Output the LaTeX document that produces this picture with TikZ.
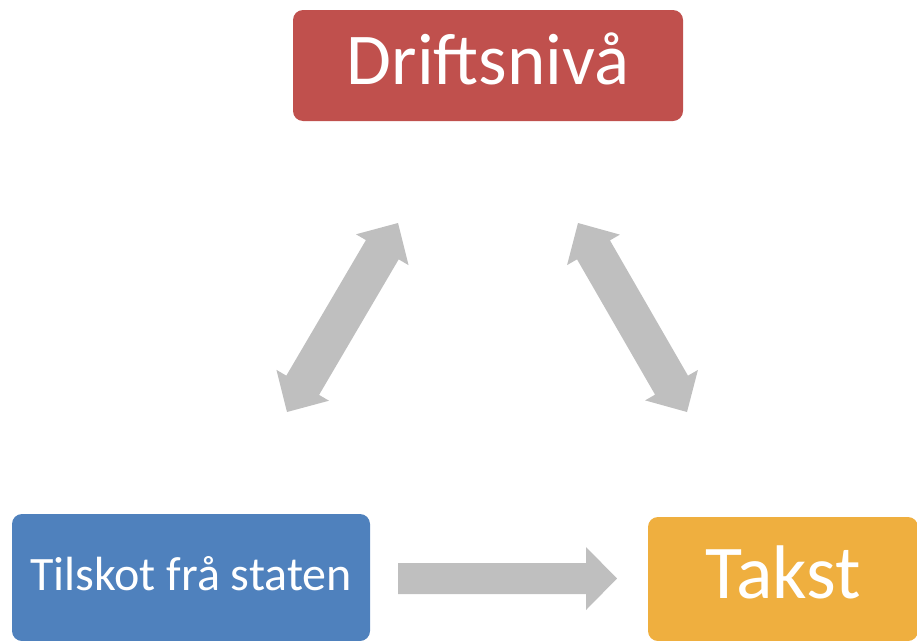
\documentclass[tikz,border=0pt]{standalone}
\usepackage{fontspec}
\setmainfont{Carlito}
\usetikzlibrary{calc}
\definecolor{boxred}{HTML}{C0504D}
\definecolor{boxblue}{HTML}{4F81BD}
\definecolor{boxorange}{HTML}{EFAF3F}
\definecolor{arrowgray}{HTML}{BFBFBF}
% double block arrow between two named coordinates
% #1,#2 tips, #3 shaft half width, #4 head half width, #5 head length
\newcommand\dblblockarrow[5]{%
  \fill[arrowgray] (#1)
    -- ($(#1)!#5!(#2)!#4!90:(#2)$) -- ($(#1)!#5!(#2)!#3!90:(#2)$)
    -- ($(#2)!#5!(#1)!#3!-90:(#1)$) -- ($(#2)!#5!(#1)!#4!-90:(#1)$)
    -- (#2)
    -- ($(#2)!#5!(#1)!#4!90:(#1)$) -- ($(#2)!#5!(#1)!#3!90:(#1)$)
    -- ($(#1)!#5!(#2)!#3!-90:(#2)$) -- ($(#1)!#5!(#2)!#4!-90:(#2)$)
    -- cycle;}
% single block arrow from #1 (tail) to #2 (tip)
\newcommand\sglblockarrow[5]{%
  \fill[arrowgray] ($(#1)!#3!90:(#2)$)
    -- ($(#2)!#5!(#1)!#3!-90:(#1)$) -- ($(#2)!#5!(#1)!#4!-90:(#1)$)
    -- (#2)
    -- ($(#2)!#5!(#1)!#4!90:(#1)$) -- ($(#2)!#5!(#1)!#3!90:(#1)$)
    -- ($(#1)!#3!-90:(#2)$) -- cycle;}
\begin{document}
\begin{tikzpicture}[x=1pt,y=-1pt,
  box/.style={draw=none, rounded corners=10pt, text=white, inner sep=0pt, anchor=center}]
\useasboundingbox (0,0) rectangle (917,640);
\node[box, fill=boxred, minimum width=390pt, minimum height=111pt,
      text height=46pt, text depth=8pt,
      font=\fontsize{73}{84}\selectfont] (drift) at (488,65.5) {Driftsnivå};
\node[box, fill=boxblue, minimum width=358pt, minimum height=127pt,
      text height=31pt, text depth=5pt,
      font=\fontsize{48}{56}\selectfont] (tilskot) at (191,577.5) {Tilskot frå staten};
\node[box, fill=boxorange, minimum width=270pt, minimum height=124pt,
      text height=49pt, text depth=10.5pt,
      font=\fontsize{76}{88}\selectfont] (takst) at (783,579) {Takst};
% arrow end points
\coordinate (lb) at (287,412);
\coordinate (lt) at (398,223);
\coordinate (rt) at (578,223);
\coordinate (rb) at (687,412);
\coordinate (ba) at (398,578.5);
\coordinate (bb) at (617,578.5);
\dblblockarrow{lb}{lt}{19pt}{30.5pt}{31pt}
\dblblockarrow{rt}{rb}{19pt}{30.5pt}{31pt}
\sglblockarrow{ba}{bb}{15.5pt}{31.5pt}{31pt}
\end{tikzpicture}
\end{document}
